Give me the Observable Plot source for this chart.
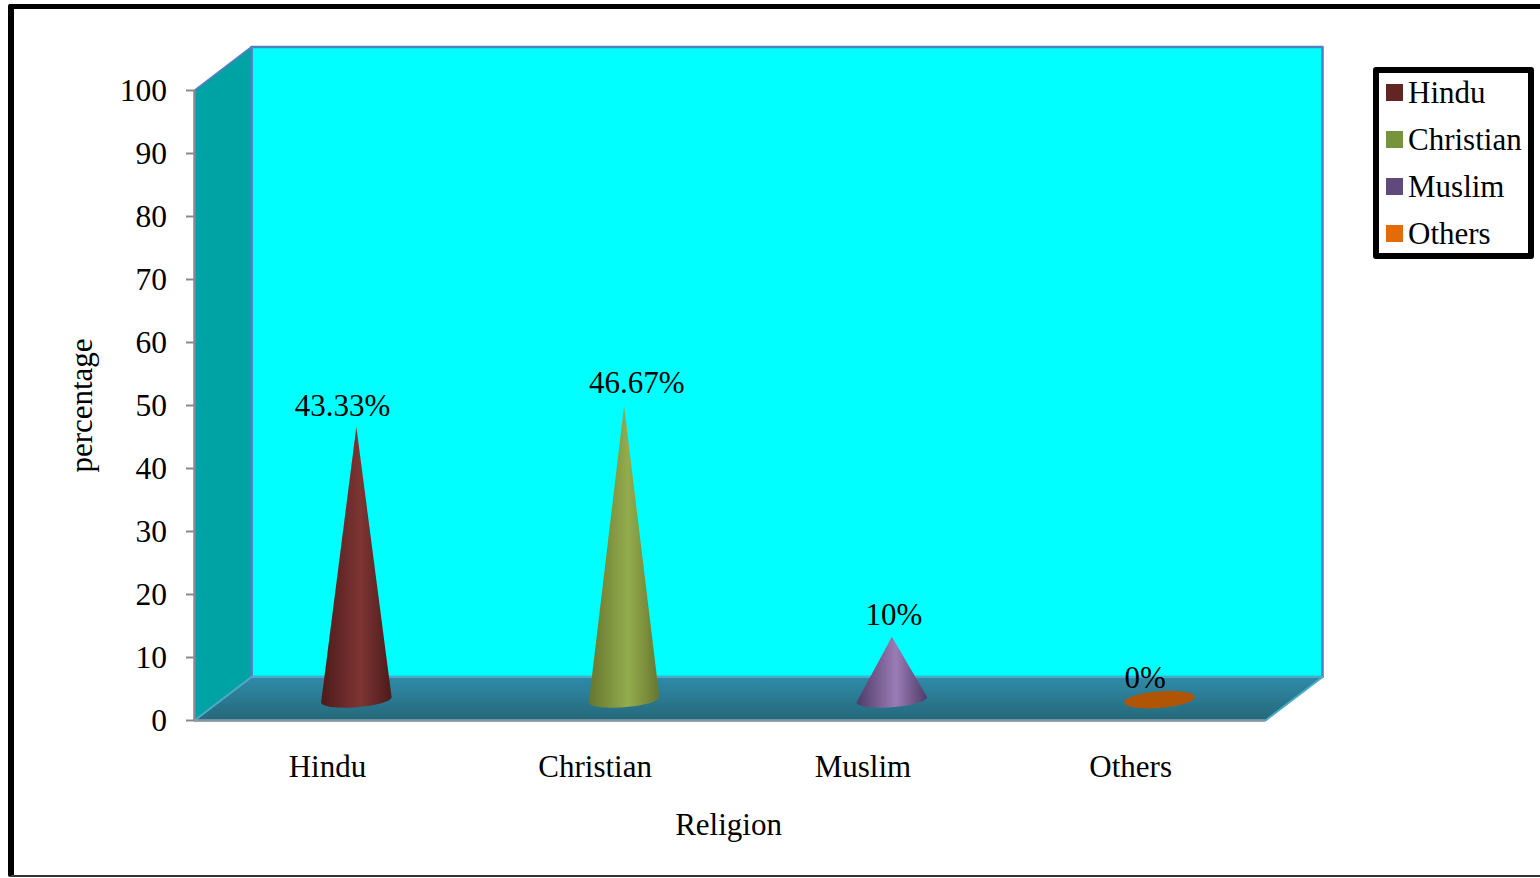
<!DOCTYPE html>
<html>
<head>
<meta charset="utf-8">
<script src="https://cdn.jsdelivr.net/npm/d3@7"></script>
<script src="https://cdn.jsdelivr.net/npm/@observablehq/plot@0.6"></script>
<style>
  html, body { margin: 0; padding: 0; background: #fff; overflow: hidden; }
  #page { position: relative; width: 1540px; height: 878px; font-family: "Liberation Serif", serif; color: #000; }
  #sheet { position: absolute; left: 8px; top: 4px; width: 1560px; height: 873px; box-sizing: border-box;
           border-left: 6px solid #000; border-top: 5px solid #000; border-bottom: 2px solid #333; border-radius: 2px; }
  #chart { position: absolute; left: 0; top: 0; }
  #legend { position: absolute; left: 1373px; top: 67px; width: 161px; height: 192px; box-sizing: border-box;
            border: 6px solid #000; border-radius: 3px; background: #fff; font-size: 31px; }
  .entry { position: absolute; left: 7px; display: flex; align-items: center; line-height: 30px; height: 30px; white-space: nowrap; }
  .swatch { width: 17px; height: 17px; margin-right: 5px; flex: none; }
  .name { position: relative; top: 1px; }
</style>
</head>
<body>
<div id="page">
  <div id="sheet"></div>
  <div id="chart"></div>
  <div id="legend"></div>
</div>
<script>
// Share of respondents by religion
const categories = ["Hindu", "Christian", "Muslim", "Others"];
const percentages = [43.33, 46.67, 10, 0];
const valueLabels = ["43.33%", "46.67%", "10%", "0%"];
const yTicks = [0, 10, 20, 30, 40, 50, 60, 70, 80, 90, 100];

// Legend and cone colours
const legendColors = ["#632523", "#77933c", "#604a7b", "#e36c09"];
const coneEdge = ["#4c1b1a", "#66762f", "#4e3b69", "#b05505"];
const conePeak = ["#7e3533", "#93ad4d", "#9a7cb4", "#b05505"];

// Depth of the box in axis units, and of the cones standing halfway in
const depthX = 0.2129, depthY = 6.9;
const midX = 0.1045, midY = 3.3;
const baseRx = 0.1315, baseRy = 1.2, discRy = 1.32, baseSkew = 0.42;
// Hand-placed nudges of the value labels along x, and their lift above the tip
const labelNudge = [-0.052, 0.047, 0.008, -0.054];
const labelLift = [6.55, 6.85, 6.7, 6.7];

const wall = [[0, 0], [0, 100], [depthX, 100 + depthY], [depthX, depthY]].map(([x, y]) => ({x, y}));
const back = [[depthX, depthY], [depthX, 100 + depthY], [4 + depthX, 100 + depthY], [4 + depthX, depthY]].map(([x, y]) => ({x, y}));
const floor = [[0, 0], [depthX, depthY], [4 + depthX, depthY], [4, 0]].map(([x, y]) => ({x, y}));

// Outline of a cone: the tip, then the front half of its tilted base
const coneOutline = (i) => {
  const cx = i + 0.5 + midX, v = percentages[i];
  const pts = [{x: cx, y: v + midY}];
  for (let k = 0; k <= 48; ++k) {
    const t = Math.PI + (k / 48) * Math.PI;
    pts.push({x: cx + baseRx * Math.cos(t), y: midY + baseRy * Math.sin(t) + baseSkew * Math.cos(t)});
  }
  return pts;
};

// A zero share has no height, only its base disc
const discOutline = (i) => {
  const cx = i + 0.5 + midX, pts = [];
  for (let k = 0; k < 72; ++k) {
    const t = (k / 72) * 2 * Math.PI;
    pts.push({x: cx + baseRx * Math.cos(t), y: midY + discRy * Math.sin(t) + baseSkew * Math.cos(t)});
  }
  return pts;
};

const closed = (data, fill, stroke, strokeWidth = 0) =>
  Plot.line(data, {x: "x", y: "y", curve: "linear-closed", fill, stroke, strokeWidth});

const chart = Plot.plot({
  width: 1540,
  height: 878,
  marginLeft: 194,
  marginRight: 275,
  marginTop: 90,
  marginBottom: 158,
  style: {fontFamily: "Liberation Serif", fontSize: "31px", background: "transparent", color: "#000", overflow: "visible"},
  x: {domain: [0, 4], axis: null},
  y: {domain: [0, 100], axis: null},
  marks: [
    closed(back, "#00ffff", "#4f81bd", 2.5),
    closed(wall, "#00a3a3", "#4f81bd", 2),
    closed(floor, "url(#floorShade)", "#4bacc6", 2),
    Plot.ruleX([0], {y1: 0, y2: 100, stroke: "#8a8a8a", strokeWidth: 2}),
    Plot.ruleY([0], {x1: 0, x2: 4, stroke: "#8a96a0", strokeWidth: 2.5}),
    Plot.axisY({
      ticks: yTicks, tickSize: 8, tickPadding: 19.5, stroke: "#8a8a8a", strokeWidth: 2,
      tickFormat: (d) => String(d), label: null, fontSize: 31.5, fill: "#000", textStroke: "none"
    }),
    Plot.axisX({
      ticks: categories.map((_, i) => i + 0.5), tickSize: 0, tickPadding: 34, dx: -1,
      tickFormat: (d) => categories[d - 0.5], label: null, fontSize: 31, fill: "#000"
    }),
    ...percentages.map((v, i) =>
      v > 0
        ? closed(coneOutline(i), `url(#cone${i})`, "none")
        : closed(discOutline(i), coneEdge[i], "none")
    ),
    Plot.text(percentages.map((v, i) => i), {
      x: (i) => i + 0.5 + midX + labelNudge[i],
      y: (i) => percentages[i] + labelLift[i],
      text: (i) => valueLabels[i],
      fontSize: 31, fill: "#000"
    }),
    Plot.text(["percentage"], {x: [-0.4204], y: [50.0], rotate: -90, fontSize: 31, fill: "#000"}),
    Plot.text(["Religion"], {x: [1.9945], y: [-16.67], fontSize: 31, fill: "#000"})
  ]
});

// Shading for the floor and the cones
const defs = d3.select(chart).insert("defs", ":first-child");
const floorShade = defs.append("linearGradient").attr("id", "floorShade").attr("x1", 0).attr("y1", 0).attr("x2", 0).attr("y2", 1);
floorShade.append("stop").attr("offset", "0%").attr("stop-color", "#2f8ba8");
floorShade.append("stop").attr("offset", "100%").attr("stop-color", "#25687a");
categories.forEach((_, i) => {
  const g = defs.append("linearGradient").attr("id", `cone${i}`).attr("x1", 0).attr("y1", 0).attr("x2", 1).attr("y2", 0);
  [[0, coneEdge[i]], [0.56, conePeak[i]], [1, coneEdge[i]]].forEach(([o, c]) =>
    g.append("stop").attr("offset", o).attr("stop-color", c));
});

document.getElementById("chart").appendChild(chart);

// Boxed legend beside the plot
const legend = d3.select("#legend");
categories.forEach((name, i) => {
  const row = legend.append("div").attr("class", "entry").style("top", `${4 + i * 47}px`);
  row.append("div").attr("class", "swatch").style("background", legendColors[i]);
  row.append("div").attr("class", "name").text(name);
});
</script>
</body>
</html>
